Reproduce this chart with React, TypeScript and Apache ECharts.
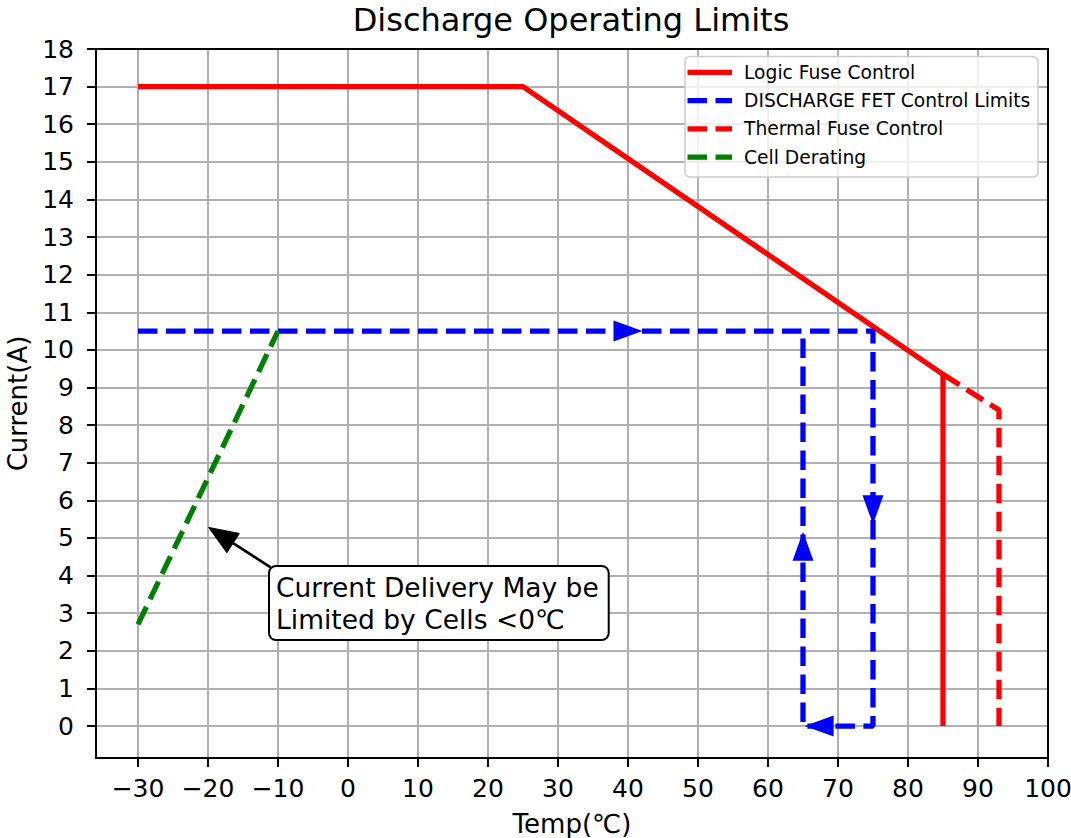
import React, { useEffect, useRef } from "react";
import * as echarts from "echarts";

// ---- data ----
const xTicks = [-30, -20, -10, 0, 10, 20, 30, 40, 50, 60, 70, 80, 90, 100];
const yTicks = [0, 1, 2, 3, 4, 5, 6, 7, 8, 9, 10, 11, 12, 13, 14, 15, 16, 17, 18];

const seriesNames = [
  "Logic Fuse Control",
  "DISCHARGE FET Control Limits",
  "Thermal Fuse Control",
  "Cell Derating",
];
const seriesColors = ["#ff0000", "#0000ff", "#ff0000", "#008000"];
const seriesDashed = [false, true, true, true];

const logicFuseX = [-30, 25, 85, 85];
const logicFuseY = [17, 17, 9.35, 0];

const fetX = [-30, 75, 75, 65, 65];
const fetY = [10.5, 10.5, 0, 0, 10.5];

const thermalX = [85, 93, 93];
const thermalY = [9.35, 8.4, 0];

const cellX = [-30, -10];
const cellY = [2.7, 10.5];

// direction arrow heads on the FET path (centre points, rotation)
const arrowX = [40, 75, 67.3, 65];
const arrowY = [10.5, 5.75, 0, 4.78];
const arrowRot = [-90, 180, 90, 0];

// annotation arrow (from text box corner to point on derating line)
const noteFrom = [-11.05, 4.22];
const noteTo = [-19.9, 5.28];
const noteText = "Current Delivery May be\nLimited by Cells <0℃";

const FONT = '"DejaVu Sans", "Noto Sans", sans-serif';

const pairs = (xs: number[], ys: number[]) => xs.map((x, i) => [x, ys[i]]);

export default function App() {
  const ref = useRef<HTMLDivElement>(null);

  useEffect(() => {
    if (!ref.current) return;
    const chart = echarts.init(ref.current, null, { renderer: "svg" });

    const lw = 5.3;
    const dash = [19.5, 8.5];
    const tickFont = 25;

    // manual legend (matplotlib style)
    const legX = 685;
    const legY = 56.5;
    const legRowY = [72.3, 100.6, 128.9, 157.2];
    const legendGraphics: any[] = [
      {
        type: "rect",
        id: "legbox",
        z: 50,
        shape: { x: legX, y: legY, width: 353, height: 120.5, r: 5 },
        style: { fill: "rgba(255,255,255,0.8)", stroke: "#cccccc", lineWidth: 1.5 },
      },
    ];
    seriesNames.forEach((name, i) => {
      legendGraphics.push({
        type: "line",
        id: "legline" + i,
        z: 51,
        shape: { x1: 687.5, y1: legRowY[i], x2: 732, y2: legRowY[i] },
        style: {
          stroke: seriesColors[i],
          lineWidth: lw,
          lineDash: seriesDashed[i] ? dash : null,
          lineCap: "butt",
        },
      });
      legendGraphics.push({
        type: "text",
        id: "legtext" + i,
        z: 51,
        x: 744,
        y: legRowY[i],
        style: {
          text: name,
          font: `18.7px ${FONT}`,
          fill: "#000",
          align: "left",
          verticalAlign: "middle",
        },
      });
    });

    const option: any = {
      animation: false,
      backgroundColor: "#ffffff",
      textStyle: { fontFamily: FONT },
      grid: {
        left: 96,
        top: 49,
        right: 23,
        bottom: 80,
        containLabel: false,
        outerBoundsMode: "none",
        show: true,
        borderColor: "#000",
        borderWidth: 2,
        backgroundColor: "transparent",
        z: 1,
      },
      graphic: [
        {
          type: "text",
          id: "title",
          x: 571,
          y: 20,
          style: {
            text: "Discharge Operating Limits",
            font: `32px ${FONT}`,
            fill: "#000",
            align: "center",
            verticalAlign: "middle",
          },
        },
        {
          type: "text",
          id: "notebox",
          x: 270,
          y: 567,
          z: 100,
          style: {
            text: noteText,
            font: `26.5px ${FONT}`,
            fill: "#000",
            lineHeight: 32.5,
            backgroundColor: "#fff",
            borderColor: "#000",
            borderWidth: 2,
            borderRadius: 6,
            padding: [4, 9, 3, 6],
            align: "left",
            verticalAlign: "top",
          },
        },
        ...legendGraphics,
      ],
      xAxis: {
        type: "value",
        min: -36,
        max: 100,
        minInterval: 10,
        maxInterval: 10,
        name: "Temp(℃)",
        nameLocation: "middle",
        nameGap: 54,
        nameTextStyle: { fontFamily: FONT, fontSize: 26, lineHeight: 24, color: "#000" },
        axisLine: { show: true, onZero: false, lineStyle: { color: "#000", width: 2 } },
        axisTick: {
          show: true,
          length: 9,
          customValues: xTicks,
          lineStyle: { color: "#000", width: 2 },
        },
        axisLabel: {
          customValues: xTicks,
          fontFamily: FONT,
          fontSize: tickFont,
          color: "#000",
          margin: 18,
          formatter: (v: number) => (v < 0 ? "\u2212" + Math.abs(v) : String(v)),
        },
        splitLine: { show: true, lineStyle: { color: "#b0b0b0", width: 2 } },
      },
      yAxis: {
        type: "value",
        min: -0.85,
        max: 18,
        minInterval: 1,
        maxInterval: 1,
        name: "Current(A)",
        nameLocation: "middle",
        nameGap: 64,
        nameRotate: 90,
        nameTextStyle: { fontFamily: FONT, fontSize: 26, color: "#000" },
        axisLine: { show: true, onZero: false, lineStyle: { color: "#000", width: 2 } },
        axisTick: {
          show: true,
          length: 9,
          customValues: yTicks,
          lineStyle: { color: "#000", width: 2 },
        },
        axisLabel: {
          customValues: yTicks,
          fontFamily: FONT,
          fontSize: tickFont,
          color: "#000",
          margin: 22,
          formatter: (v: number) => (Number.isInteger(v) ? String(v) : ""),
        },
        splitLine: { show: true, lineStyle: { color: "#b0b0b0", width: 2 } },
      },
      series: [
        {
          name: seriesNames[0],
          type: "line",
          data: pairs(logicFuseX, logicFuseY),
          symbol: "none",
          color: seriesColors[0],
          lineStyle: { color: seriesColors[0], width: lw, type: "solid" },
          z: 3,
        },
        {
          name: seriesNames[1],
          type: "line",
          data: pairs(fetX, fetY),
          symbol: "none",
          color: seriesColors[1],
          lineStyle: { color: seriesColors[1], width: lw, type: dash, cap: "butt" },
          z: 3,
        },
        {
          name: seriesNames[2],
          type: "line",
          data: pairs(thermalX, thermalY),
          symbol: "none",
          color: seriesColors[2],
          lineStyle: { color: seriesColors[2], width: lw, type: dash, cap: "butt" },
          z: 3,
        },
        {
          name: seriesNames[3],
          type: "line",
          data: pairs(cellX, cellY),
          symbol: "none",
          color: seriesColors[3],
          lineStyle: { color: seriesColors[3], width: lw, type: dash, cap: "butt" },
          z: 3,
        },
        {
          name: "arrows",
          type: "scatter",
          silent: true,
          symbol: "triangle",
          symbolSize: [21, 29],
          color: "#0000ff",
          itemStyle: { color: "#0000ff", opacity: 1 },
          z: 4,
          data: arrowX.map((x, i) => ({ value: [x, arrowY[i]], symbolRotate: arrowRot[i] })),
        },
      ],
    };

    chart.setOption(option);

    // annotation arrow, placed through the chart's own coordinate system
    const p1 = chart.convertToPixel({ xAxisIndex: 0, yAxisIndex: 0 }, noteFrom) as number[];
    const p2 = chart.convertToPixel({ xAxisIndex: 0, yAxisIndex: 0 }, noteTo) as number[];
    if (p1 && p2) {
      const dx = p2[0] - p1[0];
      const dy = p2[1] - p1[1];
      const len = Math.hypot(dx, dy) || 1;
      const ux = dx / len;
      const uy = dy / len;
      const nx = -uy;
      const ny = ux;
      const headL = 29;
      const headW = 11.5;
      const bx = p2[0] - ux * headL;
      const by = p2[1] - uy * headL;
      chart.setOption({
        graphic: [
          {
            type: "line",
            id: "noteline",
            z: 90,
            shape: { x1: p1[0], y1: p1[1], x2: bx, y2: by },
            style: { stroke: "#000", lineWidth: 2.6 },
          },
          {
            type: "polygon",
            id: "notehead",
            z: 90,
            shape: {
              points: [
                [p2[0], p2[1]],
                [bx + nx * headW, by + ny * headW],
                [bx - nx * headW, by - ny * headW],
              ],
            },
            style: { fill: "#000", stroke: "#000", lineWidth: 1 },
          },
        ],
      });
    }

    return () => chart.dispose();
  }, []);

  return (
    <div
      ref={ref}
      style={{ position: "absolute", left: 0, top: 0, width: 1071, height: 838, background: "#fff" }}
    />
  );
}
